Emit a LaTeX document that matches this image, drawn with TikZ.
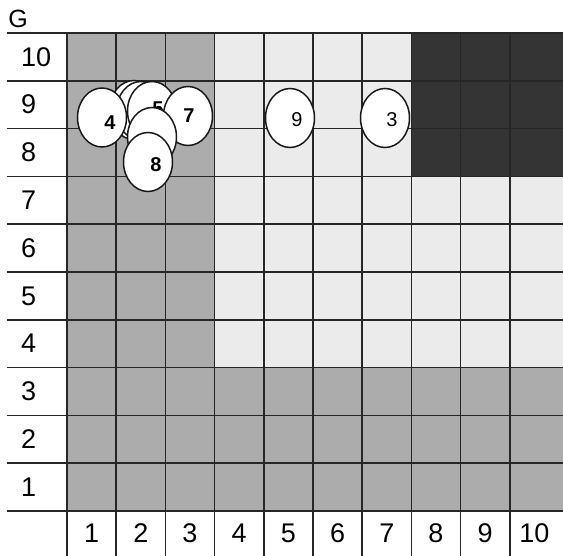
\documentclass[tikz,border=0pt]{standalone}
\usepackage{fontspec}
\setmainfont{Liberation Sans}
\usetikzlibrary{shapes.geometric}
\definecolor{midgray}{RGB}{172,172,172}
\definecolor{lightgray}{RGB}{235,235,235}
\definecolor{darkgray}{RGB}{52,52,52}
\tikzset{
  gridline/.style={line width=1.5pt, black!85},
  disc/.style={ellipse, draw=black!90, line width=1.5pt, fill=white, minimum width=49pt, minimum height=59pt, inner sep=0pt},
  clab/.style={font=\fontsize{20}{20}\selectfont, inner sep=0pt},
  blab/.style={font=\fontsize{20}{20}\selectfont\bfseries, inner sep=0pt},
  rowlab/.style={font=\fontsize{27}{27}\selectfont, anchor=west, inner sep=0pt},
  collab/.style={font=\fontsize{27}{27}\selectfont, inner sep=0pt},
}
\begin{document}
\begin{tikzpicture}[x=1pt,y=-1pt]
\useasboundingbox (0,0) rectangle (563,556);
% fills
\fill[lightgray] (214.6,33) rectangle (563,367.6);
\fill[darkgray] (411.4,33) rectangle (563,176.4);
\fill[midgray] (67,33) rectangle (214.6,511);
\fill[midgray] (214.6,367.6) rectangle (563,511);
% horizontal lines
\foreach \i in {0,...,10} {
  \draw[gridline] (7,{33+47.8*\i}) -- (563,{33+47.8*\i});
}
% vertical lines
\foreach \j in {0,...,9} {
  \draw[gridline] ({67+49.2*\j},33) -- ({67+49.2*\j},556);
}
% title
\node[font=\fontsize{25}{25}\selectfont, inner sep=0pt] (g) at (18,19) {G};
% row labels
\foreach \r in {1,...,10} {
  \node[rowlab] (r\r) at (21,{33+47.8*(10-\r)+23.9}) {\r};
}
% column labels
\foreach \c in {1,...,10} {
  \node[collab] (c\c) at ({67+49.2*(\c-1)+24.6},533.5) {\c};
}
% discs
\node[disc] (b1) at (134,110) {};
\node[disc] (b2) at (141,111) {};
\node[disc] (d4) at (102,117.5) {};
\node[blab] (l4) at (110,123) {4};
\node[disc] (d5) at (152,111) {};
\node[blab] (l5) at (158,109) {5};
\node[disc] (d7) at (188,116) {};
\node[blab] (l7) at (189,116) {7};
\node[disc] (d6) at (152,137) {};
\node[disc] (d8) at (148,162) {};
\node[blab] (l8) at (156,165) {8};
\node[disc] (d9) at (290,118) {};
\node[clab] (l9) at (297,120) {9};
\node[disc] (d3) at (385,118) {};
\node[clab] (l3) at (392,120) {3};
\end{tikzpicture}
\end{document}
